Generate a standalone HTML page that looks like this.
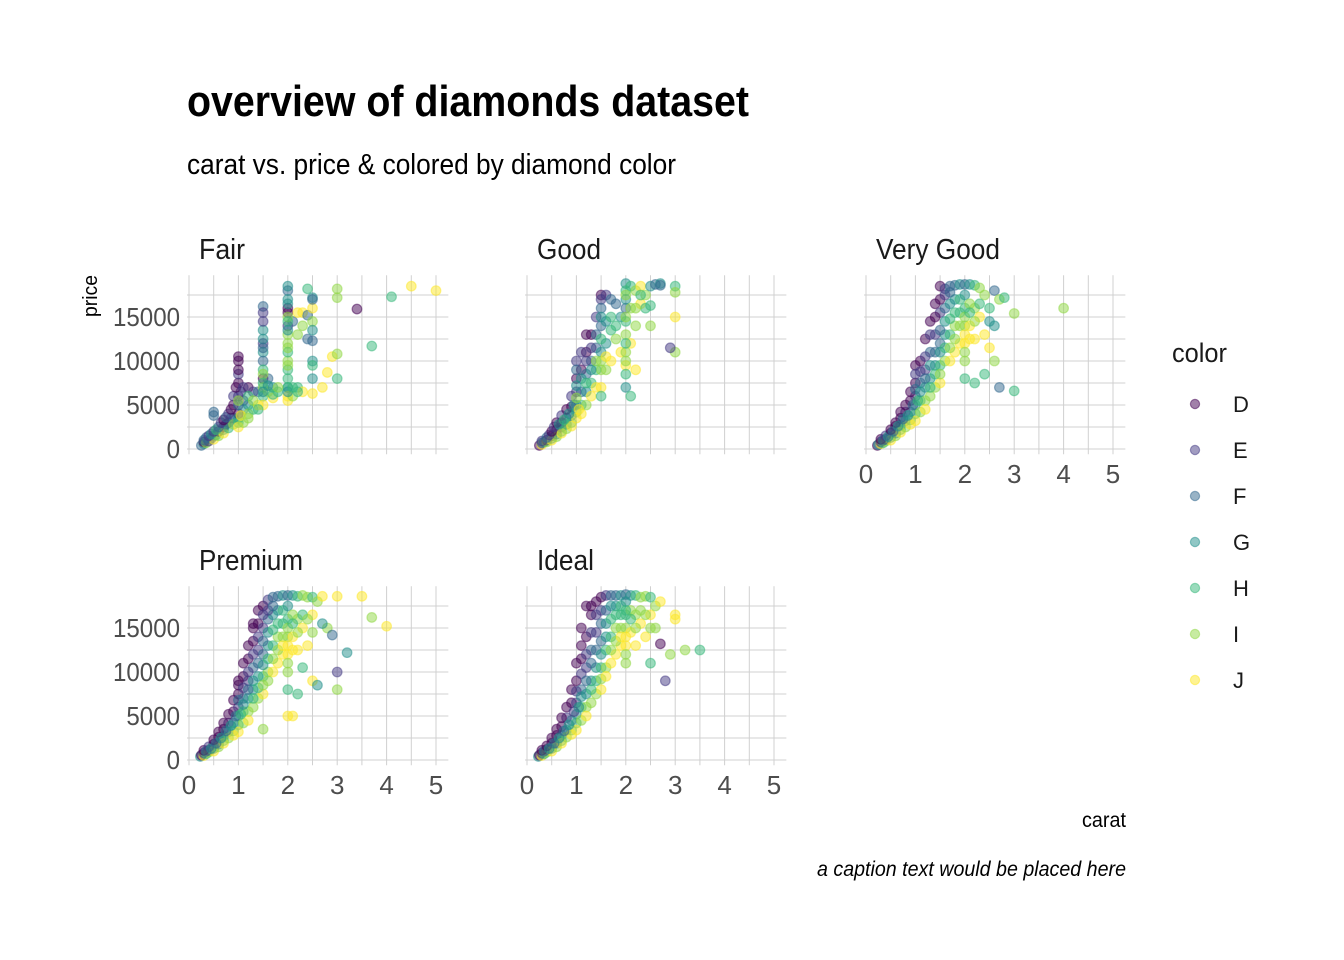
<!DOCTYPE html>
<html><head><meta charset="utf-8">
<style>
html,body{margin:0;padding:0;background:#fff;}
svg{display:block;}
text{font-family:"Liberation Sans Narrow","Liberation Sans",sans-serif;}
</style></head>
<body>
<svg id="chart" width="1344" height="960" viewBox="0 0 1344 960" xmlns="http://www.w3.org/2000/svg">
<rect width="1344" height="960" fill="#fff"/>
<text x="187" y="116" font-size="44" font-weight="bold" fill="#000" textLength="562" lengthAdjust="spacingAndGlyphs">overview of diamonds dataset</text>
<text x="187" y="174" font-size="29" fill="#000" textLength="489" lengthAdjust="spacingAndGlyphs">carat vs. price &amp; colored by diamond color</text>
<text transform="translate(97,296) rotate(-90)" text-anchor="middle" font-size="20" fill="#000" textLength="42" lengthAdjust="spacingAndGlyphs">price</text>
<text x="1126" y="827" text-anchor="end" font-size="21" fill="#000" textLength="44" lengthAdjust="spacingAndGlyphs">carat</text>
<text x="1126" y="876" text-anchor="end" font-size="21" font-style="italic" fill="#000" textLength="309" lengthAdjust="spacingAndGlyphs">a caption text would be placed here</text>
<g id="panels"></g>
<g id="legend"></g>
</svg>
<script>
const colorLevels = ['D','E','F','G','H','I','J'];
const colorHex = ['#440154','#443A83','#31688E','#21908C','#35B779','#8FD744','#FDE725'];
const xTicks = [0,1,2,3,4,5];
const yTicks = [0,5000,10000,15000];
const facetNames = ['Fair','Good','Very Good','Premium','Ideal'];

const fairPoints = [[0.25,400,2],[0.3,600,3],[0.3,800,0],[0.35,700,5],[0.4,900,1],[0.45,1200,2],[0.5,1500,2],[0.5,1100,6],[0.55,1600,4],[0.6,2000,0],[0.6,1500,5],[0.7,2500,0],[0.7,2200,3],[0.7,1800,6],[0.75,2800,1],[0.8,3000,1],[0.8,2400,4],[0.85,3500,2],[0.9,3500,2],[0.9,2800,5],[0.9,5000,0],[1.0,4000,0],[1.0,3500,3],[1.0,3000,4],[1.0,2500,6],[1.0,6000,1],[1.0,7500,0],[1.0,10500,0],[1.0,10000,0],[1.0,8500,1],[1.05,6500,1],[1.1,5500,1],[1.1,4500,3],[1.1,3000,5],[1.2,7000,0],[1.2,5000,3],[1.2,4000,5],[1.3,6500,1],[1.3,4500,4],[1.4,6500,2],[1.4,5000,6],[1.5,8000,0],[1.5,12000,1],[1.5,16200,2],[1.5,15500,1],[1.5,13500,3],[1.5,11000,3],[1.5,10000,2],[1.5,9000,4],[1.5,7000,5],[1.5,6000,4],[1.5,5000,6],[1.6,8000,2],[1.6,6500,5],[1.7,7000,3],[1.7,5800,6],[1.8,6500,4],[2.0,15500,0],[2.0,16000,0],[2.0,14000,1],[2.0,18000,2],[2.0,16500,3],[2.0,18500,3],[2.0,12000,5],[2.0,13000,5],[2.0,9000,4],[2.0,10000,5],[2.0,7000,3],[2.0,7000,4],[2.0,6000,6],[2.0,5500,6],[2.1,6000,5],[2.1,14500,2],[2.2,13000,5],[2.2,7000,4],[2.3,15500,6],[2.3,6500,6],[2.4,15200,2],[2.4,18200,4],[2.4,12500,2],[2.5,12300,2],[2.5,17200,3],[2.5,10000,3],[2.5,8000,3],[2.5,9500,4],[2.5,14500,5],[2.5,6300,6],[2.5,16000,6],[2.7,7000,6],[2.8,8700,6],[2.9,10500,6],[3.0,8000,4],[3.0,10800,5],[3.0,17200,5],[3.0,18200,5],[3.4,15900,0],[3.7,11700,4],[4.1,17300,4],[4.5,18500,6],[5.0,18000,6],
[0.3,1000,2],[0.35,1300,2],[0.4,1500,1],[0.45,1700,3],[0.5,2000,1],[0.55,2200,4],[0.6,2500,2],[0.65,3000,1],[0.7,3300,0],[0.75,3600,2],[0.5,4200,2],[0.5,3800,2],[0.8,4000,1],[0.85,4500,0],[0.9,6000,1],[0.95,7000,0],[1.0,9000,0],[1.0,5000,2],[1.0,5500,5],[1.05,3800,6],[1.1,7000,1],[1.2,6000,4],[1.2,3500,5],[1.3,5500,5],[1.4,4500,4],[1.5,14500,1],[1.5,12500,3],[1.5,11500,2],[1.5,8500,5],[1.5,7500,4],[1.5,6500,3],[1.6,7200,3],[1.7,6200,4],[1.8,7000,5],[2.0,17000,3],[2.0,15000,5],[2.0,14500,4],[2.0,13500,3],[2.0,11000,4],[2.0,11500,5],[2.0,8000,4],[2.0,9500,5],[2.0,6500,3],[2.1,7000,4],[2.2,6500,4],[2.2,15500,6],[2.3,14000,5],[2.5,13500,3],[2.5,17000,2]];

const goodPoints = [[0.25,400,0],[0.3,500,6],[0.3,700,2],[0.35,800,3],[0.4,1000,0],[0.4,800,5],[0.5,1500,0],[0.5,1200,3],[0.5,1000,6],[0.6,2200,0],[0.6,1700,2],[0.6,1400,5],[0.7,3000,0],[0.7,2500,1],[0.7,2000,4],[0.7,1800,6],[0.8,3500,1],[0.8,2800,3],[0.8,2300,5],[0.9,4800,0],[0.9,3800,2],[0.9,3000,4],[0.9,2600,6],[1.0,8000,0],[1.0,6500,1],[1.0,5000,2],[1.0,4200,4],[1.0,3500,6],[1.0,10000,1],[1.1,9000,0],[1.1,6500,2],[1.1,5000,4],[1.1,4000,6],[1.2,11000,0],[1.2,8500,2],[1.2,6500,3],[1.2,5000,5],[1.3,13000,0],[1.3,10000,2],[1.3,7500,4],[1.3,6000,6],[1.4,15000,1],[1.4,11500,2],[1.4,9000,4],[1.4,7000,6],[1.5,17500,0],[1.5,17000,1],[1.5,14000,2],[1.5,11000,3],[1.5,9000,5],[1.5,7000,6],[1.5,6000,4],[1.6,17500,1],[1.6,12000,3],[1.6,9000,5],[1.7,17000,2],[1.7,13500,4],[1.7,10000,6],[1.8,16500,2],[1.8,12500,5],[1.9,15000,3],[1.9,11000,6],[2.0,18800,3],[2.0,18000,4],[2.0,16000,2],[2.0,14500,4],[2.0,13000,5],[2.0,11000,5],[2.0,9500,6],[2.0,7000,3],[2.0,8500,4],[2.1,18500,4],[2.1,12000,6],[2.1,6000,4],[2.2,18000,5],[2.2,14000,5],[2.2,9000,6],[2.3,16500,6],[2.3,18500,6],[2.4,16000,4],[2.4,17500,5],[2.5,16300,4],[2.5,18500,3],[2.5,14000,5],[2.6,18700,2],[2.7,18800,3],[2.7,18600,2],[3.0,18500,4],[3.0,17800,5],[3.0,11000,5],[2.9,11500,1],[3.0,15000,6],
[0.3,900,1],[0.4,1300,2],[0.45,1600,1],[0.5,2000,0],[0.55,2500,1],[0.6,3000,0],[0.65,2800,3],[0.7,3800,1],[0.75,3300,4],[0.8,4500,0],[0.85,4000,3],[0.9,6000,1],[0.95,5000,3],[1.0,9000,2],[1.0,7200,3],[1.0,5800,5],[1.05,4500,6],[1.1,8000,3],[1.1,11000,1],[1.2,10000,1],[1.2,7500,4],[1.2,13000,0],[1.3,9000,3],[1.3,11500,1],[1.4,13000,2],[1.4,10000,5],[1.5,16000,2],[1.5,12500,4],[1.5,15000,3],[1.5,10000,5],[1.6,14500,3],[1.6,10500,6],[1.7,15000,4],[1.8,14000,4],[2.0,17000,3],[2.0,15000,5],[2.0,12000,4],[2.0,10000,5],[2.0,17500,5],[2.1,16000,5],[2.2,16000,5],[2.3,17500,4]];

const veryGoodPoints = [[0.23,400,0],[0.25,500,3],[0.3,600,6],[0.3,800,1],[0.35,700,4],[0.4,1100,0],[0.4,900,5],[0.5,1800,0],[0.5,1300,3],[0.5,1000,6],[0.6,2600,0],[0.6,1800,2],[0.6,1500,5],[0.7,3500,0],[0.7,2700,2],[0.7,2200,4],[0.7,1900,6],[0.8,4200,1],[0.8,3200,3],[0.8,2500,5],[0.9,5500,0],[0.9,4200,2],[0.9,3300,4],[0.9,2800,6],[1.0,7500,0],[1.0,6000,1],[1.0,5000,3],[1.0,4000,4],[1.0,3200,6],[1.0,9500,0],[1.1,10000,0],[1.1,7500,2],[1.1,5500,4],[1.1,4200,5],[1.2,12500,0],[1.2,9000,1],[1.2,7000,3],[1.2,5500,5],[1.2,4500,6],[1.3,14500,0],[1.3,11000,2],[1.3,8000,3],[1.3,6000,5],[1.4,16500,0],[1.4,13000,1],[1.4,9500,3],[1.4,7000,5],[1.5,18500,0],[1.5,15500,1],[1.5,12000,2],[1.5,9500,4],[1.5,7500,6],[1.6,18200,1],[1.6,16000,2],[1.6,13000,3],[1.6,10000,5],[1.7,18500,2],[1.7,16500,3],[1.7,13000,4],[1.7,10000,6],[1.8,18600,2],[1.8,17000,3],[1.8,14000,5],[1.8,11000,6],[1.9,18700,3],[1.9,17000,4],[1.9,14000,5],[1.9,12000,6],[2.0,18700,2],[2.0,17500,3],[2.0,16000,4],[2.0,14000,5],[2.0,12000,6],[2.0,10000,5],[2.0,8000,4],[2.1,18700,3],[2.1,16500,5],[2.1,14000,6],[2.2,18600,4],[2.2,16000,5],[2.2,12500,6],[2.3,18300,5],[2.3,15000,6],[2.4,17500,5],[2.4,13000,6],[2.5,16000,4],[2.5,14500,3],[2.5,11500,6],[2.6,10000,5],[2.6,14000,3],[2.6,18000,2],[2.7,7000,2],[2.7,17000,5],[2.8,17200,4],[2.2,7500,4],[2.4,8500,4],[3.0,6600,4],[3.0,15400,5],[4.0,16000,5],
[0.3,1100,0],[0.35,1000,2],[0.4,1500,1],[0.45,1400,3],[0.5,2200,0],[0.55,2000,2],[0.6,3000,0],[0.65,2600,3],[0.7,4200,0],[0.75,3400,2],[0.8,5000,0],[0.85,3800,3],[0.9,6500,0],[0.95,5000,2],[1.0,8500,1],[1.0,6800,2],[1.05,5500,4],[1.1,8800,1],[1.1,6500,3],[1.2,10500,1],[1.2,8000,2],[1.3,13000,1],[1.3,9500,3],[1.3,7000,4],[1.4,15000,0],[1.4,11000,2],[1.4,8500,4],[1.5,17000,0],[1.5,13500,2],[1.5,11000,3],[1.5,8500,5],[1.6,17500,1],[1.6,14500,3],[1.6,11500,4],[1.7,17800,2],[1.7,14800,4],[1.7,11500,5],[1.8,15500,4],[1.8,12500,5],[1.9,15500,4],[2.0,15000,5],[2.0,13000,6],[2.0,11000,5],[2.1,15500,4],[2.1,12500,6],[2.2,14500,5],[2.3,16500,4]];

const premiumPoints = [[0.23,400,3],[0.25,550,0],[0.3,500,6],[0.3,800,1],[0.35,700,4],[0.4,1100,0],[0.4,900,5],[0.5,1800,0],[0.5,1300,3],[0.5,1000,6],[0.6,2600,0],[0.6,1800,2],[0.6,1500,5],[0.7,3500,0],[0.7,2700,2],[0.7,2200,4],[0.7,1900,6],[0.8,4200,1],[0.8,3200,3],[0.8,2500,5],[0.9,5500,0],[0.9,4200,2],[0.9,3300,4],[0.9,2800,6],[1.0,7500,0],[1.0,6000,1],[1.0,5000,3],[1.0,4000,4],[1.0,3200,6],[1.1,9500,0],[1.1,7000,2],[1.1,5500,4],[1.1,4200,5],[1.2,11500,0],[1.2,9000,1],[1.2,7000,3],[1.2,5500,5],[1.2,4500,6],[1.3,13500,0],[1.3,10500,2],[1.3,8000,3],[1.3,6000,5],[1.4,15500,0],[1.4,12500,1],[1.4,9500,3],[1.4,7000,5],[1.5,17500,0],[1.5,15000,1],[1.5,12000,2],[1.5,9500,4],[1.5,7500,6],[1.6,18200,1],[1.6,16000,2],[1.6,13000,3],[1.6,10000,5],[1.7,18500,2],[1.7,16500,3],[1.7,13000,4],[1.7,10000,6],[1.8,18600,2],[1.8,17000,3],[1.8,14000,5],[1.8,11000,6],[1.9,18700,3],[1.9,17000,4],[1.9,14000,5],[1.9,12000,6],[2.0,18700,2],[2.0,17500,3],[2.0,16000,4],[2.0,14000,5],[2.0,12000,6],[2.0,10000,5],[2.0,8000,4],[2.1,18700,3],[2.1,16500,5],[2.1,14000,6],[2.2,18600,4],[2.2,16000,5],[2.2,12500,6],[2.3,18700,5],[2.3,15000,6],[2.4,18500,5],[2.4,13000,6],[2.5,18500,4],[2.5,16500,6],[2.5,9000,6],[2.6,18000,5],[2.7,18600,6],[2.8,15000,5],[2.9,14200,2],[3.0,18600,6],[3.0,10000,1],[3.0,8000,5],[3.2,12200,3],[3.5,18600,6],[3.7,16200,5],[4.0,15200,6],[2.7,15500,3],[2.3,10500,4],[2.6,8500,3],[2.2,7500,4],[2.0,5000,6],[2.1,5000,6],[1.3,15500,0],[1.0,8500,0],[1.5,3500,5],
[0.3,1100,0],[0.35,1000,2],[0.4,1500,1],[0.45,1300,3],[0.5,2300,0],[0.55,1900,2],[0.6,3200,0],[0.65,2500,3],[0.7,4200,0],[0.75,3300,2],[0.8,5200,0],[0.85,3900,3],[0.9,6800,0],[0.95,5000,2],[1.0,9000,0],[1.0,6800,2],[1.05,5200,4],[1.1,11000,0],[1.1,8200,1],[1.1,6300,3],[1.2,13000,0],[1.2,10000,1],[1.2,8000,2],[1.3,15000,0],[1.3,12000,1],[1.3,9000,3],[1.3,7000,4],[1.4,17000,0],[1.4,14000,1],[1.4,11000,2],[1.4,8200,4],[1.5,16500,1],[1.5,13500,2],[1.5,10800,3],[1.5,8500,5],[1.6,17000,1],[1.6,14500,3],[1.6,11500,4],[1.6,9000,5],[1.7,17500,2],[1.7,14800,4],[1.7,11500,5],[1.8,15500,4],[1.8,12500,5],[1.9,15500,4],[1.9,13000,6],[2.0,15000,5],[2.0,13000,6],[2.0,11000,5],[2.1,15500,4],[2.1,12500,6],[2.2,14500,5],[2.3,16500,4],[2.4,16000,5],[2.5,14500,5]];

const idealPoints = [[0.23,400,3],[0.25,550,0],[0.3,500,6],[0.3,800,1],[0.35,700,4],[0.4,1200,0],[0.4,900,5],[0.5,1900,0],[0.5,1300,3],[0.5,1000,6],[0.6,2800,0],[0.6,1900,2],[0.6,1500,5],[0.7,3800,0],[0.7,2800,2],[0.7,2200,4],[0.7,1900,6],[0.8,4800,1],[0.8,3400,3],[0.8,2600,5],[0.9,6500,0],[0.9,4500,2],[0.9,3400,4],[0.9,2900,6],[1.0,9000,0],[1.0,6500,1],[1.0,5200,3],[1.0,4200,4],[1.0,3400,6],[1.1,11500,0],[1.1,8000,2],[1.1,6000,4],[1.1,4500,5],[1.2,14000,0],[1.2,10500,1],[1.2,7500,3],[1.2,6000,5],[1.2,5000,6],[1.3,16500,0],[1.3,12500,2],[1.3,9000,3],[1.3,6500,5],[1.4,18000,0],[1.4,14500,1],[1.4,10500,3],[1.4,7500,5],[1.5,18500,0],[1.5,17000,1],[1.5,13500,2],[1.5,10500,4],[1.5,8000,6],[1.6,18700,1],[1.6,17000,2],[1.6,14000,3],[1.6,10500,5],[1.7,18700,2],[1.7,17500,3],[1.7,14000,4],[1.7,11000,6],[1.8,18700,2],[1.8,17500,3],[1.8,15000,5],[1.8,12000,6],[1.9,18700,3],[1.9,17500,4],[1.9,15000,5],[1.9,13000,6],[2.0,18800,2],[2.0,18000,3],[2.0,16500,4],[2.0,15000,5],[2.0,13000,6],[2.0,11000,5],[2.1,18700,3],[2.1,17000,5],[2.1,14500,6],[2.2,18700,4],[2.2,16500,5],[2.2,13000,6],[2.3,18500,5],[2.3,15500,6],[2.4,18600,5],[2.4,14000,6],[2.5,18500,4],[2.5,16500,6],[2.5,11000,4],[2.6,17500,5],[2.7,13200,0],[2.7,18000,6],[2.8,9000,1],[2.6,15000,5],[2.9,12000,5],[3.0,16500,6],[3.0,16000,6],[3.2,12500,5],[3.5,12500,4],[1.2,17500,0],[1.1,15000,0],
[0.3,1100,0],[0.35,1000,2],[0.4,1600,0],[0.45,1300,3],[0.5,2500,0],[0.55,1900,2],[0.6,3500,0],[0.65,2500,3],[0.7,4800,0],[0.75,3300,2],[0.8,6000,0],[0.85,4000,3],[0.9,8000,0],[0.95,5500,1],[1.0,11000,0],[1.0,7800,1],[1.05,6000,3],[1.1,13000,0],[1.1,9800,1],[1.1,7200,3],[1.2,12000,1],[1.2,9000,2],[1.3,17500,0],[1.3,14500,1],[1.3,11000,2],[1.3,8000,4],[1.4,16500,1],[1.4,12500,2],[1.4,9000,4],[1.5,15500,2],[1.5,12000,3],[1.5,9200,5],[1.6,15500,3],[1.6,12500,4],[1.6,9500,6],[1.7,16000,4],[1.7,12500,5],[1.8,16500,4],[1.8,13500,5],[1.9,16500,4],[1.9,14000,6],[2.0,17000,4],[2.0,14000,6],[2.0,12000,5],[2.1,16000,4],[2.2,15000,5],[2.3,17000,5],[2.4,16500,5],[2.5,15000,5]];

const allFacetPoints = [fairPoints, goodPoints, veryGoodPoints, premiumPoints, idealPoints];

// layout (not data)
const panelOrigins = [[189,449],[527,449],[866,449],[189,760],[527,760]];
const stripWidths = [46,64,124,104,57];
const xPerUnit = 49.4, yPerUnit = 0.0088;
const showYLabels = [true,false,false,true,false];
const showXLabels = [false,false,true,true,true];
const NS = 'http://www.w3.org/2000/svg';
function mk(tag, attrs, parent){
  const e = document.createElementNS(NS, tag);
  for (const k in attrs) e.setAttribute(k, attrs[k]);
  parent.appendChild(e);
  return e;
}
const panelsG = document.getElementById('panels');
facetNames.forEach((name, i) => {
  const [x0, y0] = panelOrigins[i];
  const xs = c => x0 + c * xPerUnit;
  const ys = p => y0 - p * yPerUnit;
  const g = mk('g', {}, panelsG);
  
  
  const top = ys(19748), bottom = ys(-599), left = xs(-0.04), right = xs(5.25);
  for (let c = 0; c <= 5; c += 0.5) {
    const l = mk('line', {x1: xs(c), x2: xs(c), y1: top, y2: bottom, stroke: '#d0d0d0', 'stroke-width': 1}, g);
    
    
  }
  for (let p = 0; p <= 17500; p += 2500) {
    const l = mk('line', {x1: left, x2: right, y1: ys(p), y2: ys(p), stroke: '#d0d0d0', 'stroke-width': 1}, g);
    
    
  }
  const st = mk('text', {x: x0 + 10, y: y0 - 190, 'font-size': 29, fill: '#1a1a1a'}, g);
  st.textContent = name;
  
  
  st.setAttribute('textLength', stripWidths[i]);
  st.setAttribute('lengthAdjust', 'spacingAndGlyphs');
  if (showYLabels[i]) yTicks.forEach(t => {
    const tx = mk('text', {x: x0 - 9, y: ys(t) + 9, 'text-anchor': 'end', 'font-size': 26, fill: '#4d4d4d'}, g);
    tx.textContent = t;
    
    
    tx.setAttribute('textLength', String(t).length * 13.4);
    tx.setAttribute('lengthAdjust', 'spacingAndGlyphs');
  });
  if (showXLabels[i]) xTicks.forEach(t => {
    const tx = mk('text', {x: xs(t), y: y0 + 34, 'text-anchor': 'middle', 'font-size': 26, fill: '#4d4d4d'}, g);
    tx.textContent = t;
    
    
  });
  allFacetPoints[i].forEach(pt => {
    const c = mk('circle', {cx: xs(pt[0]), cy: ys(pt[1]), r: 4.8, fill: colorHex[pt[2]], 'fill-opacity': 0.5, stroke: colorHex[pt[2]], 'stroke-opacity': 0.5, 'stroke-width': 1.2}, g);
    
    
  });
});
const lg = document.getElementById('legend');
const lt = mk('text', {x: 1172, y: 362, 'font-size': 27, fill: '#1a1a1a', textLength: 55, lengthAdjust: 'spacingAndGlyphs'}, lg);
lt.textContent = 'color';


colorLevels.forEach((lev, k) => {
  const y = 404 + k * 46;
  const e = mk('g', {}, lg);
  
  
  mk('circle', {cx: 1195, cy: y, r: 4.6, fill: colorHex[k], 'fill-opacity': 0.5, stroke: colorHex[k], 'stroke-opacity': 0.5, 'stroke-width': 1.2}, e);
  const t = mk('text', {x: 1233, y: y + 8, 'font-size': 22, fill: '#1a1a1a'}, e);
  t.textContent = lev;
});
</script>
</body></html>
